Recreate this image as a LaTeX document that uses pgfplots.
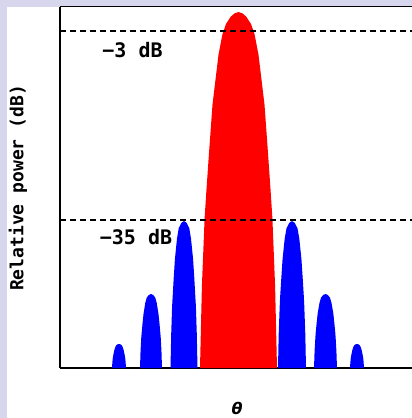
\documentclass[border=0pt]{standalone}
\usepackage{fontspec}
\setmonofont{DejaVu Sans Mono}
\newfontfamily\thetafont{DejaVu Sans}
\usepackage{pgfplots}
\pgfplotsset{compat=1.18}
\definecolor{lavender}{RGB}{214,214,236}

\begin{document}
\begin{tikzpicture}[x=1pt,y=1pt]
\path[use as bounding box] (0,0) rectangle (412,418);
\fill[lavender] (0,0) rectangle (412,418);
\fill[white] (7,0) rectangle (412,411);

\begin{axis}[
  at={(60pt,50pt)}, anchor=south west,
  width=352pt, height=361pt, scale only axis,
  xmin=60, xmax=412, ymin=0, ymax=361,
  xtick=\empty, ytick=\empty,
  axis x line*=bottom, axis y line*=left,
  axis line style={-, line width=1.8pt, black},
  clip=false,
]
% main lobe
\addplot[fill=red, draw=none] coordinates {
  (200.0,0) (201.9,81.9) (204.6,149.5) (206.2,174.4) (208.9,213.6) (212.5,263.4)
  (218.5,313.3) (222.5,334) (226,344) (230.8,351.4) (234.5,354.6) (238.5,356)
  (242.5,354.6) (246.2,351.4) (251,344) (254.5,334)
  (258.5,313.3) (264.5,263.4) (268.1,213.6) (270.8,174.4) (272.4,149.5) (275.1,81.9) (277.0,0)
} \closedcycle;
% first side lobes
\addplot[fill=blue, draw=none] coordinates {
  (170.5,0) (171.2,33.8) (172.1,61.7) (172.7,72.0) (173.6,88.2) (174.9,108.8)
  (177.0,129.4) (178.7,139.7) (181.3,145.1) (184,147) (186.7,145.1) (189.3,139.7)
  (191.0,129.4) (193.1,108.8) (194.4,88.2) (195.3,72.0) (195.9,61.7) (196.8,33.8) (197.5,0)
} \closedcycle;
\addplot[fill=blue, draw=none] coordinates {
  (278,0) (278.7,33.8) (279.7,61.7) (280.2,72.0) (281.2,88.2) (282.55,108.8)
  (284.7,129.4) (286.5,139.7) (289.2,145.1) (292,147) (294.8,145.1) (297.5,139.7)
  (299.3,129.4) (301.45,108.8) (302.8,88.2) (303.8,72.0) (304.3,61.7) (305.3,33.8) (306,0)
} \closedcycle;
% second side lobes
\addplot[fill=blue, draw=none] coordinates {
  (140,0) (140.55,17.0) (141.3,31.1) (141.8,36.3) (142.5,44.4) (143.6,54.8)
  (145.3,65.1) (146.7,70.3) (148.8,73.0) (151,74) (153.2,73.0) (155.3,70.3)
  (156.7,65.1) (158.4,54.8) (159.5,44.4) (160.2,36.3) (160.7,31.1) (161.45,17.0) (162,0)
} \closedcycle;
\addplot[fill=blue, draw=none] coordinates {
  (314,0) (314.6,17.0) (315.4,31.1) (315.8,36.3) (316.6,44.4) (317.7,54.8)
  (319.5,65.1) (321,70.3) (323.2,73.0) (325.5,74) (327.8,73.0) (330,70.3)
  (331.5,65.1) (333.3,54.8) (334.4,44.4) (335.2,36.3) (335.6,31.1) (336.4,17.0) (337,0)
} \closedcycle;
% third side lobes
\addplot[fill=blue, draw=none] coordinates {
  (112,0) (112.35,5.5) (112.8,10.1) (113.1,11.8) (113.6,14.4) (114.3,17.8)
  (115.4,21.1) (116.3,22.8) (117.6,23.7) (119,24) (120.4,23.7) (121.7,22.8)
  (122.6,21.1) (123.7,17.8) (124.4,14.4) (124.9,11.8) (125.2,10.1) (125.65,5.5) (126,0)
} \closedcycle;
\addplot[fill=blue, draw=none] coordinates {
  (350,0) (350.35,5.5) (350.8,10.1) (351.1,11.8) (351.6,14.4) (352.3,17.8)
  (353.4,21.1) (354.3,22.8) (355.6,23.7) (357,24) (358.4,23.7) (359.7,22.8)
  (360.6,21.1) (361.7,17.8) (362.4,14.4) (362.9,11.8) (363.2,10.1) (363.65,5.5) (364,0)
} \closedcycle;
% reference levels
\addplot[black, line width=1.6pt, dash pattern=on 6pt off 4pt] coordinates {(60,337) (412,337)};
\addplot[black, line width=1.6pt, dash pattern=on 6pt off 4pt] coordinates {(60,148) (412,148)};
\end{axis}

\draw[line width=1pt] (60,411) -- (412,411);
\node[font=\ttfamily\bfseries\fontsize{20}{22}\selectfont] at (132.5,368) {−3 dB};
\node[font=\ttfamily\bfseries\fontsize{20}{22}\selectfont] at (136,180.5) {−35 dB};
\node[rotate=90, font=\ttfamily\bfseries\fontsize{18}{20}\selectfont] at (18,230) {Relative power (dB)};
\node[font=\thetafont\bfseries\itshape\fontsize{16}{18}\selectfont] at (237,10) {θ};
\end{tikzpicture}
\end{document}
